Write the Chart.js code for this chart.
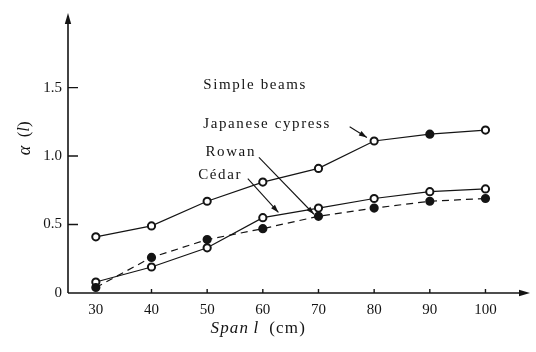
<!DOCTYPE html>
<html>
<head>
<meta charset="utf-8">
<script src="https://cdn.jsdelivr.net/npm/chart.js@4.4.0/dist/chart.umd.min.js"></script>
<style>
  html, body { margin: 0; padding: 0; background: #fff; }
</style>
</head>
<body>
<canvas id="alphaChart" width="536" height="352"></canvas>
<script>
// values: alpha(l) against span l
var spans = [30, 40, 50, 60, 70, 80, 90, 100];
var cypress = [0.41, 0.49, 0.67, 0.81, 0.91, 1.11, 1.16, 1.19];
var rowan = [0.08, 0.19, 0.33, 0.55, 0.62, 0.69, 0.74, 0.76];
var cedar = [0.04, 0.26, 0.39, 0.47, 0.56, 0.62, 0.67, 0.69];

var xTicks = [30, 40, 50, 60, 70, 80, 90, 100];
var yTicks = [0, 0.5, 1.0, 1.5];
var yTickLabels = ["0", "0.5", "1.0", "1.5"];

var serif = "'Liberation Serif', 'DejaVu Serif', serif";
var ink = "#141414";

function pts(ys) {
    return spans.map(function (x, i) { return { x: x, y: ys[i] }; });
}

// labels and leader arrows, placed in data units
var notes = [
    { text: "Simple beams", x: 49.3, y: 1.515 },
    { text: "Japanese cypress", x: 49.3, y: 1.23 },
    { text: "Rowan", x: 49.7, y: 1.03 },
    { text: "Cédar", x: 48.4, y: 0.858 }
];
var leaders = [
    { from: [75.6, 1.214], to: [78.7, 1.136] },
    { from: [59.3, 0.99], to: [69.2, 0.575] },
    { from: [57.3, 0.836], to: [62.8, 0.588] }
];

function arrowHead(ctx, x1, y1, x2, y2, len, half) {
    var a = Math.atan2(y2 - y1, x2 - x1);
    ctx.beginPath();
    ctx.moveTo(x2, y2);
    ctx.lineTo(x2 - len * Math.cos(a) + half * Math.sin(a), y2 - len * Math.sin(a) - half * Math.cos(a));
    ctx.lineTo(x2 - len * Math.cos(a) - half * Math.sin(a), y2 - len * Math.sin(a) + half * Math.cos(a));
    ctx.closePath();
    ctx.fill();
}

// draws the axis lines with arrows, inner ticks, notes and axis titles
var figureDecor = {
    id: 'figureDecor',
    afterDraw: function (chart) {
        var ctx = chart.ctx;
        var xs = chart.scales.x, ys = chart.scales.y;
        var area = chart.chartArea;
        var x0 = xs.left, y0 = ys.getPixelForValue(0);
        ctx.save();
        ctx.strokeStyle = ink;
        ctx.fillStyle = ink;

        // axes
        ctx.lineWidth = 1.6;
        ctx.beginPath();
        ctx.moveTo(x0, y0);
        ctx.lineTo(x0, area.top + 4);
        ctx.moveTo(x0, y0);
        ctx.lineTo(area.right - 4, y0);
        ctx.stroke();
        arrowHead(ctx, x0, y0, x0, area.top - 2, 11, 3.2);
        arrowHead(ctx, x0, y0, area.right, y0, 11, 3.2);

        // inner ticks
        ctx.lineWidth = 1.4;
        ctx.beginPath();
        yTicks.forEach(function (v) {
            if (v === 0) return;
            var py = ys.getPixelForValue(v);
            ctx.moveTo(x0, py);
            ctx.lineTo(x0 + 10, py);
        });
        xTicks.forEach(function (v) {
            if (v === 30) return;
            var px = xs.getPixelForValue(v);
            ctx.moveTo(px, y0);
            ctx.lineTo(px, y0 - 4);
        });
        ctx.stroke();

        // notes
        ctx.font = "15px " + serif;
        ctx.textBaseline = "middle";
        ctx.textAlign = "left";
        ctx.letterSpacing = "1.6px";
        notes.forEach(function (n) {
            ctx.fillText(n.text, xs.getPixelForValue(n.x), ys.getPixelForValue(n.y));
        });
        ctx.letterSpacing = "0px";

        ctx.lineWidth = 1.1;
        leaders.forEach(function (l) {
            var fx = xs.getPixelForValue(l.from[0]), fy = ys.getPixelForValue(l.from[1]);
            var tx = xs.getPixelForValue(l.to[0]), ty = ys.getPixelForValue(l.to[1]);
            ctx.beginPath();
            ctx.moveTo(fx, fy);
            ctx.lineTo(tx, ty);
            ctx.stroke();
            arrowHead(ctx, fx, fy, tx, ty, 8, 2.6);
        });

        // x title: Span l (cm)
        var parts = [
            ["italic 17px " + serif, "Span", "1.2px"],
            ["17px " + serif, " ", "0px"],
            ["italic 17px " + serif, "l", "0px"],
            ["17px " + serif, "  (cm)", "1.2px"]
        ];
        function drawParts(cx, cy) {
            var total = 0;
            parts.forEach(function (p) {
                ctx.font = p[0]; ctx.letterSpacing = p[2];
                total += ctx.measureText(p[1]).width;
            });
            var px = cx - total / 2;
            parts.forEach(function (p) {
                ctx.font = p[0]; ctx.letterSpacing = p[2];
                ctx.fillText(p[1], px, cy);
                px += ctx.measureText(p[1]).width;
            });
        }
        drawParts((xs.getPixelForValue(45) + xs.getPixelForValue(73)) / 2 + 1, 329);

        // y title: alpha (l)
        parts = [
            ["italic 18px " + serif, "α", "0px"],
            ["17px " + serif, "  (", "0px"],
            ["italic 17px " + serif, "l", "0px"],
            ["17px " + serif, ")", "0px"]
        ];
        ctx.translate(25, ys.getPixelForValue(1.13));
        ctx.rotate(-Math.PI / 2);
        drawParts(0, 0);
        ctx.restore();
    }
};

var ctx = document.getElementById('alphaChart').getContext('2d');
var alphaChart = new Chart(ctx, {
    type: 'line',
    data: {
        datasets: [{
            label: 'Japanese cypress',
            data: pts(cypress),
            borderColor: ink,
            borderWidth: 1.2,
            pointRadius: 3.6,
            pointBorderWidth: 2,
            pointBorderColor: ink,
            pointBackgroundColor: ['#fff', '#fff', '#fff', '#fff', '#fff', '#fff', ink, '#fff']
        }, {
            label: 'Cedar',
            data: pts(cedar),
            borderColor: ink,
            borderWidth: 1.2,
            borderDash: [7, 5],
            pointRadius: 3.6,
            pointBorderWidth: 2,
            pointBorderColor: ink,
            pointBackgroundColor: ink
        }, {
            label: 'Rowan',
            data: pts(rowan),
            borderColor: ink,
            borderWidth: 1.2,
            pointRadius: 3.6,
            pointBorderWidth: 2,
            pointBorderColor: ink,
            pointBackgroundColor: '#fff'
        }]
    },
    options: {
        responsive: false,
        animation: false,
        devicePixelRatio: 1,
        layout: { padding: { top: 9, right: 1, left: 0, bottom: 0 } },
        plugins: {
            legend: { display: false },
            tooltip: { enabled: false }
        },
        scales: {
            x: {
                type: 'linear',
                min: 25,
                max: 108,
                afterBuildTicks: function (scale) {
                    scale.ticks = xTicks.map(function (v) { return { value: v }; });
                },
                afterFit: function (scale) { scale.height = 59; },
                grid: { display: false, drawTicks: false },
                border: { display: false },
                ticks: {
                    color: ink,
                    font: { family: serif, size: 15 },
                    padding: 8,
                    maxRotation: 0,
                    autoSkip: false
                }
            },
            y: {
                type: 'linear',
                min: 0,
                max: 2.03,
                afterBuildTicks: function (scale) {
                    scale.ticks = yTicks.map(function (v) { return { value: v }; });
                },
                afterFit: function (scale) { scale.width = 68; },
                grid: { display: false, drawTicks: false },
                border: { display: false },
                ticks: {
                    color: ink,
                    font: { family: serif, size: 15 },
                    padding: 6,
                    autoSkip: false,
                    callback: function (value) {
                        var i = yTicks.indexOf(value);
                        return i >= 0 ? yTickLabels[i] : '';
                    }
                }
            }
        }
    },
    plugins: [figureDecor]
});
</script>
</body>
</html>
